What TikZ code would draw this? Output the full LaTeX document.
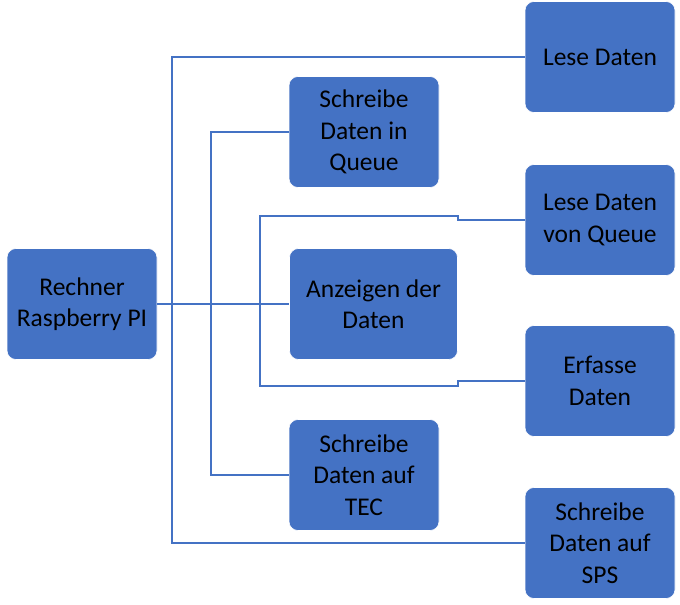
\documentclass[tikz,border=0pt]{standalone}
\usepackage{fontspec}
\setmainfont{Carlito}
\begin{document}
\begin{tikzpicture}[x=1pt,y=-1pt,
  box/.style={rectangle,rounded corners=9pt,fill=boxblue,draw=white,line width=0.6pt,
    minimum width=150pt,minimum height=111pt,align=center,inner sep=1pt,
    font=\fontsize{25.5}{31.5}\selectfont,text=black},
  conn/.style={draw=lineblue,line width=1.8pt}]
\definecolor{boxblue}{RGB}{68,114,196}
\definecolor{lineblue}{RGB}{68,114,196}
\useasboundingbox (0,0) rectangle (680,605);
\node[box] (pi) at (82,304) {Rechner\\Raspberry PI};
\node[box] (lese) at (600,57) {Lese Daten};
\node[box] (sq) at (364,132) {Schreibe\\Daten in\\Queue};
\node[box] (lq) at (600,220) {Lese Daten\\von Queue};
\node[box,minimum width=168pt] (anz) at (373.5,304) {Anzeigen der\\Daten};
\node[box] (erf) at (600,381) {Erfasse\\Daten};
\node[box] (tec) at (364,475) {Schreibe\\Daten auf\\TEC};
\node[box] (sps) at (600,543) {Schreibe\\Daten auf\\SPS};
\coordinate (xo) at (172,0);
\coordinate (xm) at (211,0);
\coordinate (xi) at (260,0);
\coordinate (ytop) at (0,216);
\coordinate (ybot) at (0,386);
\draw[conn] (lese.west) -- (lese.west -| xo) -- (sps.west -| xo) -- (sps.west);
\draw[conn] (sq.west) -- (sq.west -| xm) -- (tec.west -| xm) -- (tec.west);
\draw[conn] (lq.west) -- (lq.west -| anz.east) -- (ytop -| anz.east) -- (ytop -| xi)
  -- (ybot -| xi) -- (ybot -| anz.east) -- (erf.west -| anz.east) -- (erf.west);
\draw[conn] (pi.east) -- (anz.west);
\end{tikzpicture}
\end{document}
